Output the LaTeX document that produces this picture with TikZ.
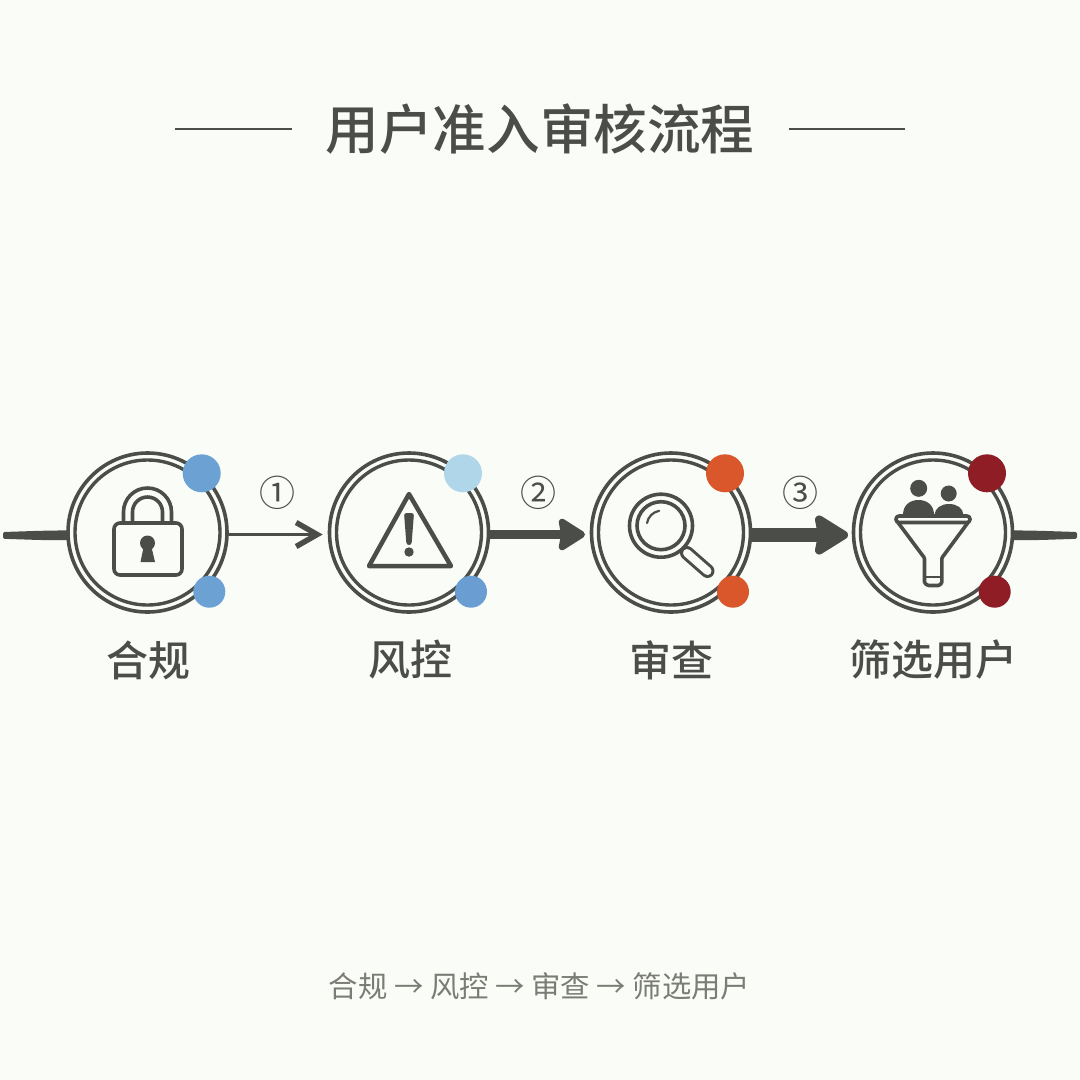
\documentclass[tikz,border=0pt]{standalone}
\usepackage{fontspec}
\setmainfont{Noto Sans CJK SC}
\newfontfamily\medcjk[UprightFont=* Medium]{Noto Sans CJK SC}
\usetikzlibrary{arrows.meta,calc}
\definecolor{ink}{HTML}{4B4D49}
\definecolor{paper}{HTML}{FAFCF7}
\definecolor{foot}{HTML}{7B7C75}
\definecolor{blueA}{HTML}{6CA2D3}
\definecolor{blueB}{HTML}{B0D6EA}
\definecolor{blueC}{HTML}{6A9ED3}
\definecolor{orangeA}{HTML}{D9572B}
\definecolor{redA}{HTML}{8F1D26}
\tikzset{
  ringnode/.style={circle,draw=ink,line width=3.6pt,minimum size=159pt,inner sep=0pt},
  innerring/.style={draw=ink,line width=3.4pt},
  dotbig/.style={circle,minimum size=38pt,inner sep=0pt},
  dotsmall/.style={circle,minimum size=32pt,inner sep=0pt},
  lbl/.style={text=ink,font=\medcjk\fontsize{42}{42}\selectfont,inner sep=0pt},
  numlbl/.style={text=ink,font=\fontsize{36}{36}\selectfont,inner sep=0pt},
  icon/.style={draw=ink,line width=3.6pt,line join=round,line cap=round},
  rule/.style={draw=ink,line width=2pt},
  conn/.style={draw=ink,line cap=round},
}
\begin{document}
\begin{tikzpicture}[x=1pt,y=-1pt]
\useasboundingbox (0,0) rectangle (1080,1080);
\fill[paper] (0,0) rectangle (1080,1080);
% title
\node[text=ink,font=\medcjk\fontsize{53.6}{53.6}\selectfont,inner sep=0pt] (title) at (540,129) {用户准入审核流程};
\coordinate (tl1) at (175,129); \coordinate (tl2) at (292,129);
\coordinate (tr1) at (789,129); \coordinate (tr2) at (905,129);
\draw[rule] (tl1) -- (tl2);
\draw[rule] (tr1) -- (tr2);
% circles
\node[ringnode] (n1) at (147.5,532.5) {};
\node[ringnode] (n2) at (409,532.5) {};
\node[ringnode] (n3) at (671,532.5) {};
\node[ringnode] (n4) at (933,532.5) {};
\foreach \c in {147.5,409,671,933} \draw[innerring] (\c,532.5) circle (72.5);
% connectors
\coordinate (startp) at (3,535.5);
\coordinate (endp) at (1077,535.5);
\coordinate (lj) at ($(n1.west)+(2.5,0)$);
\coordinate (rj) at ($(n4.east)+(-2.5,0)$);
\fill[ink,rounded corners=1.5pt] (startp) ++(0,-3.5) -- (40,530.8) -- (lj |- 0,530.3) -- (lj |- 0,540) -- (40,540) -- (3,538.8) -- cycle;
\fill[ink,rounded corners=1.5pt] (endp) ++(0,-3.5) -- (1040,530.8) -- (rj |- 0,530.3) -- (rj |- 0,540) -- (1040,540) -- (1077,538.8) -- cycle;
\draw[conn,line width=3.5pt,shorten >=5pt,-{Straight Barb[length=21pt,width=24pt,line width=5.5pt 0 1]}] (n1.east |- 0,534.5) -- (n2.west |- 0,534.5);
\draw[conn,line cap=butt,line width=9pt,-{Stealth[length=30pt,width=37pt,inset=3pt,round]}] (n2.east |- 0,534.5) -- (585,534.5);
\draw[conn,line cap=butt,line width=14pt,-{Stealth[length=38pt,width=46pt,inset=4pt,round]}] (n3.east |- 0,535) -- (848,535);
% dots
\node[dotbig,fill=blueA] (d1a) at (201.7,473.3) {};
\node[dotsmall,fill=blueA] (d1b) at (209.3,591.7) {};
\node[dotbig,fill=blueB] (d2a) at (463,473.3) {};
\node[dotsmall,fill=blueC] (d2b) at (471,591.7) {};
\node[dotbig,fill=orangeA] (d3a) at (725,473.3) {};
\node[dotsmall,fill=orangeA] (d3b) at (733,591.7) {};
\node[dotbig,fill=redA] (d4a) at (987,473.3) {};
\node[dotsmall,fill=redA] (d4b) at (994.7,591.7) {};
% circled numbers
\node[numlbl] (c1) at (277,492.5) {①};
\node[numlbl] (c2) at (538,492.5) {②};
\node[numlbl] (c3) at (800,492.5) {③};
% lock
\draw[icon,rounded corners=6pt] (114,523) rectangle (182,575);
\draw[icon] (123.5,523) -- (123.5,512) arc[start angle=180,end angle=360,radius=24] -- (171.5,523);
\draw[icon] (132.5,523) -- (132.5,512) arc[start angle=180,end angle=360,radius=15] -- (162.5,523);
\fill[ink] (147.5,543) circle (7.5);
\fill[ink] (144,545) -- (140.5,562) -- (155,562) -- (151,545) -- cycle;
% warning
\draw[icon,line width=4.5pt] (409,494) -- (369,566) -- (451,566) -- cycle;
\fill[ink,rounded corners=2.5pt] (404,513) -- (414,513) -- (411.5,545) -- (406.5,545) -- cycle;
\fill[ink] (409,552) circle (4.7);
% magnifier
\draw[icon] (661,525.7) circle (31.5);
\draw[icon] (661,525.7) circle (24);
\draw[icon,line width=2.2pt] (647,523) arc[start angle=190,end angle=260,radius=15];
\draw[ink,line width=14pt,line cap=round] (687,553) -- (707.5,571);
\draw[paper,line width=8pt,line cap=round] (687,553) -- (707.5,571);
% funnel and people
\fill[ink] (918.7,488.3) circle (8.5);
\fill[ink] (948.7,493.5) circle (8);
\fill[ink] (903,515) .. controls (903,505) and (910,500) .. (918.5,500) .. controls (927,500) and (934,505) .. (934,515) -- cycle;
\fill[ink] (934.5,515) .. controls (935,508) and (941,504) .. (949,504) .. controls (957,504) and (963,508) .. (963.5,515) -- cycle;
\draw[icon,rounded corners=3pt,fill=paper] (896,516) rectangle (970,522.5);
\draw[icon,rounded corners=1pt] (898,522.5) -- (924.5,558) -- (924.5,583) -- (928,585.5) -- (939,585.5) -- (941.8,583) -- (941.8,558) -- (968,522.5);
\draw[icon,line width=2.5pt] (924.5,577) -- (941.8,577);
% labels
\node[lbl] (l1) at (148,660) {合规};
\node[lbl] (l2) at (410,660) {风控};
\node[lbl] (l3) at (671,660) {审查};
\node[lbl] (l4) at (933,660) {筛选用户};
% footer
\node[text=foot,font=\fontsize{29.4}{29.4}\selectfont,inner sep=0pt] (f) at (539.5,986) {合规 → 风控 → 审查 → 筛选用户};
\end{tikzpicture}
\end{document}
